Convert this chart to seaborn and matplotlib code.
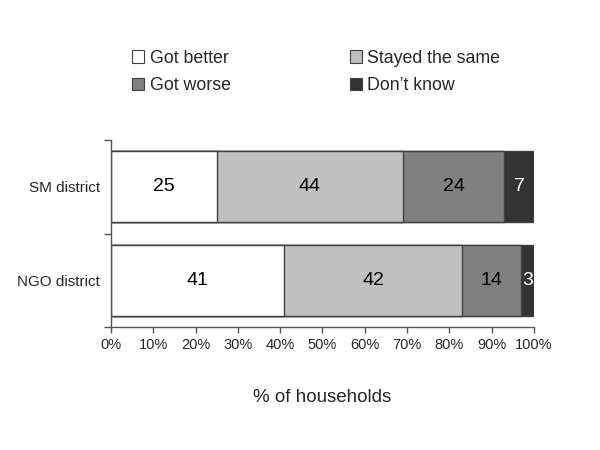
import matplotlib
matplotlib.use("Agg")
import matplotlib.pyplot as plt
from matplotlib.patches import Patch
from matplotlib.ticker import FixedLocator, PercentFormatter
import seaborn as sns
import pandas as pd
import numpy as np

districts = ["SM district", "NGO district"]
responses = ["Got better", "Stayed the same", "Got worse", "Don\u2019t know"]
got_better = [25, 41]
stayed_same = [44, 42]
got_worse = [24, 14]
dont_know = [7, 3]
colors = ["#ffffff", "#c0c0c0", "#808080", "#333333"]
text_colors = ["black", "black", "black", "white"]
x_ticks = [0, 10, 20, 30, 40, 50, 60, 70, 80, 90, 100]

sns.set_theme(style="ticks")
plt.rcParams["font.family"] = ["Liberation Sans", "DejaVu Sans"]

series = [got_better, stayed_same, got_worse, dont_know]
cum = np.cumsum(np.array(series), axis=0)

fig = plt.figure(figsize=(6, 4.5), dpi=100)
ax = fig.add_axes([0.185, 0.273, 0.705, 0.416])

edge = "#404040"
for i in range(len(responses) - 1, -1, -1):
    df = pd.DataFrame({"district": districts, "value": cum[i]})
    sns.barplot(data=df, x="value", y="district", order=districts, color=colors[i],
                saturation=1, width=0.76, edgecolor=edge, linewidth=1.0, ax=ax, orient="h")

for i, vals in enumerate(series):
    for j, v in enumerate(vals):
        center = cum[i][j] - v / 2
        ax.text(center, j, f"{v}", ha="center", va="center", fontsize=14,
                color=text_colors[i])

ax.set_xlim(0, 100)
ax.set_ylim(1.5, -0.5)
ax.set_xticks(x_ticks)
ax.xaxis.set_major_formatter(PercentFormatter(decimals=0))
ax.tick_params(axis="x", labelsize=10.5, length=4, color="#555555", width=1)
ax.tick_params(axis="y", which="major", length=0, labelsize=11, pad=8)
ax.yaxis.set_minor_locator(FixedLocator([-0.5, 0.5, 1.5]))
ax.tick_params(axis="y", which="minor", length=5, color="#555555", width=1)
ax.set_ylabel("")
ax.set_xlabel("% of households", fontsize=13.5, labelpad=27)
for s in ["top", "right"]:
    ax.spines[s].set_visible(False)
for s in ["left", "bottom"]:
    ax.spines[s].set_color("#555555")
    ax.spines[s].set_linewidth(1)

# legend in column-major order so rows read: Got better / Stayed the same, Got worse / Don't know
leg_order = [0, 2, 1, 3]
handles = [Patch(facecolor=colors[k], edgecolor=edge, linewidth=0.8) for k in leg_order]
labels = [responses[k] for k in leg_order]
fig.legend(handles, labels, ncol=2, frameon=False, loc="upper left",
           bbox_to_anchor=(0.193, 0.925), fontsize=12.8, handlelength=0.7,
           handleheight=0.7, handletextpad=0.3, columnspacing=6.7,
           labelspacing=0.6)

fig.savefig("out.png", dpi=100, facecolor="white")
